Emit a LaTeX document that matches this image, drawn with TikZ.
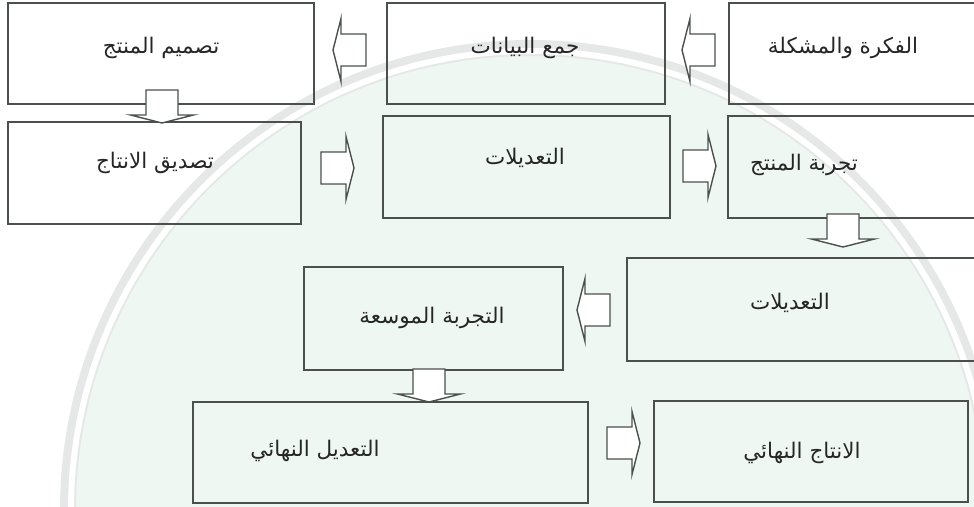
\documentclass[tikz,border=0pt]{standalone}
\usepackage{fontspec}
\TeXXeTstate=1
\newfontfamily\arabicfont[Script=Arabic]{DejaVu Sans}
\usetikzlibrary{calc}
\definecolor{edgecol}{HTML}{4B504D}
\definecolor{wmgreen}{HTML}{EFF7F2}
\definecolor{wmring}{HTML}{E5E8E6}
\tikzset{
  box/.style={draw=edgecol, line width=1.5pt, inner sep=0pt},
  lbl/.style={font=\arabicfont\fontsize{21.5}{25}\selectfont, text=black!85, inner sep=0pt, yshift=-3pt},
  arrowline/.style={draw=edgecol, line width=1.4pt, fill=white, line join=miter},
  pics/blockarr/.style={code={
    \draw[arrowline] (16.5,0) -- (8.5,-31.5) -- (8.5,-16) -- (-16.5,-16)
      -- (-16.5,16) -- (8.5,16) -- (8.5,31.5) -- cycle;}}
}
\begin{document}
\begin{tikzpicture}[x=1pt,y=-1pt]
\useasboundingbox (0,0) rectangle (974,506);
\begin{scope}
\clip (0,0) rectangle (974,506);
% faint watermark background
\fill[white] (0,0) rectangle (974,506);
\fill[wmgreen] (530,510) circle (460pt);
\draw[wmring, line width=16pt] (530,510) circle (462pt);
\draw[white, line width=6pt] (530,510) circle (459pt);
% boxes
\node[box, minimum width=306pt, minimum height=101pt] (b1) at (161,53.5) {};
\node[box, minimum width=278pt, minimum height=101pt] (b2) at (526,53.5) {};
\node[box, minimum width=261pt, minimum height=101pt] (b3) at (859.5,53.5) {};
\node[box, minimum width=293pt, minimum height=102pt] (b4) at (154.5,173) {};
\node[box, minimum width=287pt, minimum height=102pt] (b5) at (526.5,167) {};
\node[box, minimum width=262pt, minimum height=102pt] (b6) at (859,167) {};
\node[box, minimum width=363pt, minimum height=103pt] (b7) at (808.5,309.5) {};
\node[box, minimum width=259pt, minimum height=103pt] (b8) at (433.5,318.5) {};
\node[box, minimum width=395pt, minimum height=101pt] (b9) at (390.5,452.5) {};
\node[box, minimum width=314pt, minimum height=101pt] (b10) at (811,451.5) {};
% labels
\node[lbl] (t1) at (161,45) {\beginR تصميم المنتج\endR};
\node[lbl] (t2) at (525,45) {\beginR جمع البيانات\endR};
\node[lbl] (t3) at (843,45) {\beginR الفكرة والمشكلة\endR};
\node[lbl] (t4) at (155,160) {\beginR تصديق الانتاج\endR};
\node[lbl] (t5) at (525,155) {\beginR التعديلات\endR};
\node[lbl] (t6) at (804,162) {\beginR تجربة المنتج\endR};
\node[lbl] (t7) at (790,300) {\beginR التعديلات\endR};
\node[lbl] (t8) at (432,315) {\beginR التجربة الموسعة\endR};
\node[lbl] (t9) at (315,448) {\beginR التعديل النهائي\endR};
\node[lbl] (t10) at (802,450) {\beginR الانتاج النهائي\endR};
% block arrows
\coordinate (a1) at (349.5,50);
\coordinate (a2) at (698.5,50);
\coordinate (a3) at (337.5,168);
\coordinate (a4) at (699.5,166);
\coordinate (a5) at (162,106.5);
\coordinate (a6) at (843,230.5);
\coordinate (a7) at (593.5,310);
\coordinate (a8) at (429,385.5);
\coordinate (a9) at (623.5,443);
\pic[rotate=180] at (a1) {blockarr};
\pic[rotate=180] at (a2) {blockarr};
\pic at (a3) {blockarr};
\pic at (a4) {blockarr};
\pic[rotate=-90] at (a5) {blockarr};
\pic[rotate=-90] at (a6) {blockarr};
\pic[rotate=180] at (a7) {blockarr};
\pic[rotate=-90] at (a8) {blockarr};
\pic at (a9) {blockarr};
\end{scope}
\end{tikzpicture}
\end{document}
